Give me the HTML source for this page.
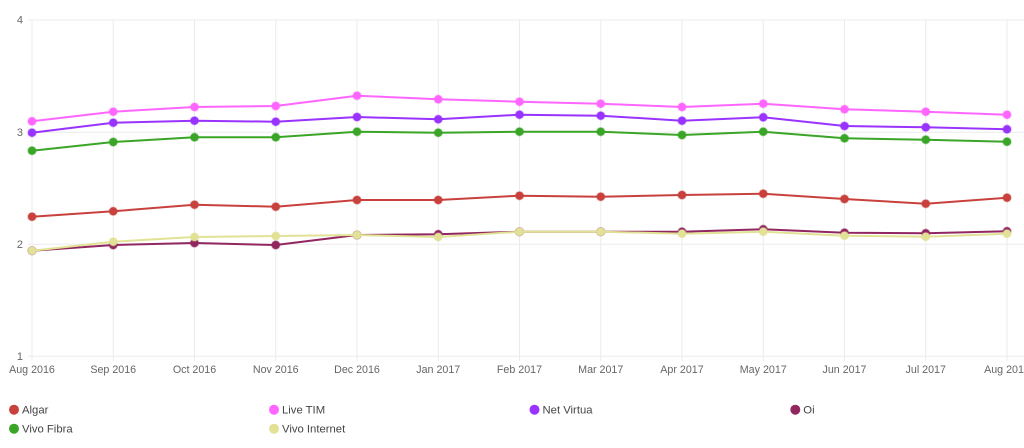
<!DOCTYPE html>
<html><head><meta charset="utf-8"><style>
html,body{margin:0;padding:0;background:#fff;width:1024px;height:448px;overflow:hidden}
svg{display:block}
text{font-family:"Liberation Sans",Arial,sans-serif}
</style></head><body>
<svg width="1024" height="448" viewBox="0 0 1024 448" xmlns="http://www.w3.org/2000/svg">
<g stroke="#ebebeb" stroke-width="1">
<line x1="28" y1="20" x2="1024" y2="20"/>
<line x1="28" y1="132.3" x2="1024" y2="132.3"/>
<line x1="28" y1="244.3" x2="1024" y2="244.3"/>
<line x1="28" y1="356.3" x2="1024" y2="356.3"/>
<line x1="32" y1="20" x2="32" y2="361"/>
<line x1="113.25" y1="20" x2="113.25" y2="361"/>
<line x1="194.5" y1="20" x2="194.5" y2="361"/>
<line x1="275.75" y1="20" x2="275.75" y2="361"/>
<line x1="357" y1="20" x2="357" y2="361"/>
<line x1="438.25" y1="20" x2="438.25" y2="361"/>
<line x1="519.5" y1="20" x2="519.5" y2="361"/>
<line x1="600.75" y1="20" x2="600.75" y2="361"/>
<line x1="682" y1="20" x2="682" y2="361"/>
<line x1="763.25" y1="20" x2="763.25" y2="361"/>
<line x1="844.5" y1="20" x2="844.5" y2="361"/>
<line x1="925.75" y1="20" x2="925.75" y2="361"/>
<line x1="1007" y1="20" x2="1007" y2="361"/>
</g>
<g fill="#666" font-size="11" text-anchor="end">
<text x="23" y="23.5">4</text>
<text x="23" y="136">3</text>
<text x="23" y="248">2</text>
<text x="23" y="360">1</text>
</g>
<g fill="#666" font-size="10.7" text-anchor="middle">
<text x="32" y="373">Aug 2016</text>
<text x="113.25" y="373">Sep 2016</text>
<text x="194.5" y="373">Oct 2016</text>
<text x="275.75" y="373">Nov 2016</text>
<text x="357" y="373">Dec 2016</text>
<text x="438.25" y="373">Jan 2017</text>
<text x="519.5" y="373">Feb 2017</text>
<text x="600.75" y="373">Mar 2017</text>
<text x="682" y="373">Apr 2017</text>
<text x="763.25" y="373">May 2017</text>
<text x="844.5" y="373">Jun 2017</text>
<text x="925.75" y="373">Jul 2017</text>
<text x="1007" y="373">Aug 2017</text>
</g>
<g id="series" fill="none" stroke-width="2" stroke-linejoin="round"></g>
<g font-size="11.3" fill="#444">
<circle cx="14" cy="409.7" r="5" fill="#c8413d"/><text x="22" y="413.7">Algar</text>
<circle cx="274" cy="409.7" r="5" fill="#ff66ff"/><text x="282" y="413.7">Live TIM</text>
<circle cx="534.5" cy="409.7" r="5" fill="#9933ff"/><text x="542.5" y="413.7">Net Virtua</text>
<circle cx="795.3" cy="409.7" r="5" fill="#922660"/><text x="803.3" y="413.7">Oi</text>
<circle cx="14" cy="428.7" r="5" fill="#3aa527"/><text x="22" y="432.7">Vivo Fibra</text>
<circle cx="274" cy="428.7" r="5" fill="#e2e296"/><text x="282" y="432.7">Vivo Internet</text>
</g>
</svg>
<script>
var data=[
["#c8413d",[216.7,211.3,204.7,206.7,200,200,195.7,196.7,195,193.7,199,203.7,197.7]],
["#ff66ff",[121.3,111.7,107,106,95.7,99.3,101.7,103.7,107,103.7,109.3,111.7,114.7]],
["#9933ff",[132.7,122.7,120.7,121.7,117,119.3,114.7,115.7,120.7,117.3,126,127.3,129.3]],
["#922660",[250.7,245,243,245,235,234.3,231.7,231.7,231.7,229.3,232.7,233.3,231.3]],
["#3aa527",[150.7,142,137.3,137.3,131.7,132.7,131.7,131.7,135,131.7,138.3,139.7,141.7]],
["#e2e296",[250.7,241.7,237,236,235,237,231.7,231.7,233.7,231.7,235.7,236.7,233.7]]
];
var g=document.getElementById('series'),ns='http://www.w3.org/2000/svg';
data.forEach(function(s){
 var pts=s[1].map(function(y,i){return (32+i*81.25)+','+y;}).join(' ');
 var p=document.createElementNS(ns,'polyline');p.setAttribute('points',pts);p.setAttribute('stroke',s[0]);g.appendChild(p);
 s[1].forEach(function(y,i){var c=document.createElementNS(ns,'circle');c.setAttribute('cx',32+i*81.25);c.setAttribute('cy',y);c.setAttribute('r',4);c.setAttribute('fill',s[0]);c.setAttribute('stroke',s[0]);c.setAttribute('stroke-opacity','0.4');c.setAttribute('stroke-width','1.5');g.appendChild(c);});
});
</script>
</body></html>
